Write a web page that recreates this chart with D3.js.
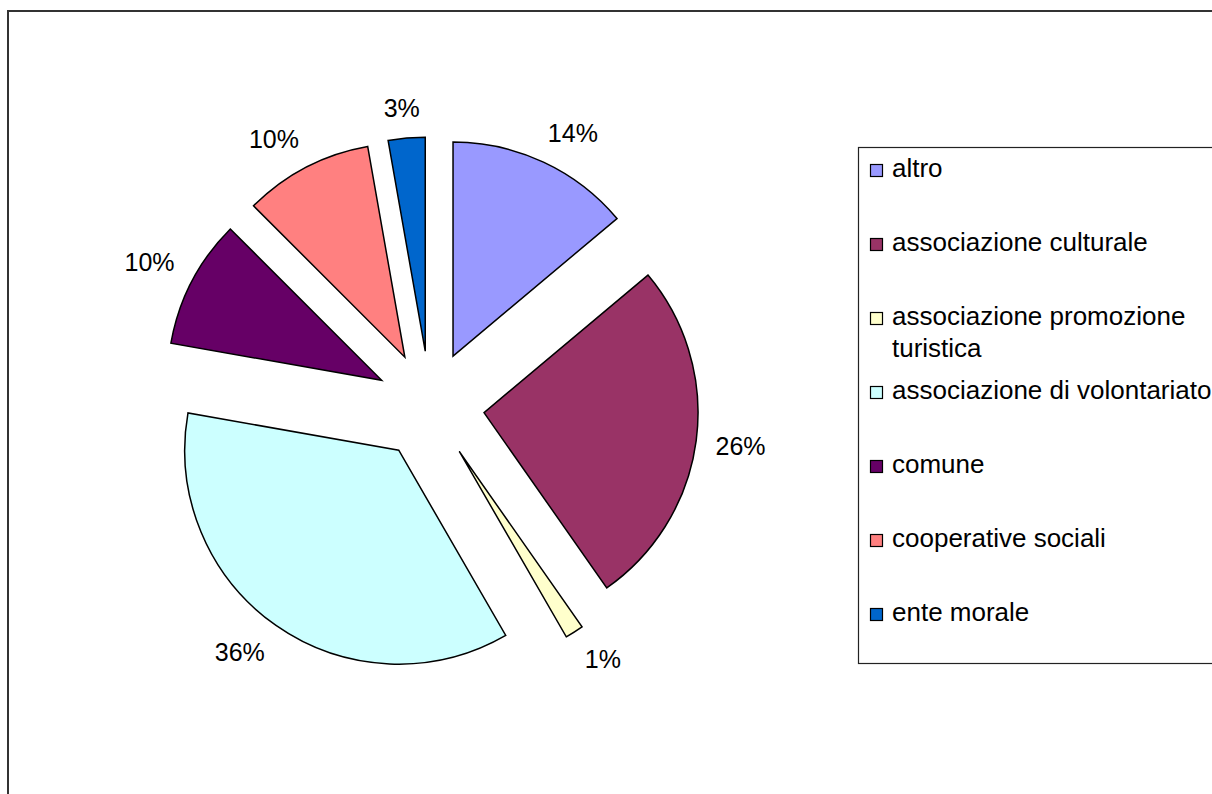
<!DOCTYPE html>
<html><head><meta charset="utf-8">
<script src="https://cdn.jsdelivr.net/npm/d3@7"></script>
<style>
body{margin:0;background:#fff}
svg{display:block}
text{font-family:"Liberation Sans",Arial,sans-serif;fill:#000}
</style>
</head><body>
<svg id="chart" width="1212" height="794"></svg>
<script>
// Data (counts inferred from slice angles; labels are rounded shares)
const categories = ["altro","associazione culturale","associazione promozione turistica","associazione di volontariato","comune","cooperative sociali","ente morale"];
const values = [10, 19, 1, 26, 7, 7, 2];
const colors = ["#9999FF","#993366","#FFFFCC","#CCFFFF","#660066","#FF8080","#0066CC"];
const legendLabels = [["altro"],["associazione culturale"],["associazione promozione","turistica"],["associazione di volontariato"],["comune"],["cooperative sociali"],["ente morale"]];

const svg = d3.select("#chart");

// outer chart border
svg.append("rect").attr("x",8).attr("y",11).attr("width",1300).attr("height",900)
  .attr("fill","none").attr("stroke","#333").attr("stroke-width",2);

const cx = 430, cy = 405.5, R = 214, explode = 54.5, labelR = 288;
const total = d3.sum(values);
const data = categories.map((c,i)=>({cat:c, value:values[i], color:colors[i]}));
const pie = d3.pie().sort(null).value(d=>d.value);
const arc = d3.arc().innerRadius(0).outerRadius(R);
const arcs = pie(data);

const g = svg.append("g").attr("transform",`translate(${cx},${cy})`);
g.selectAll("path.slice").data(arcs).join("path")
  .attr("class","slice")
  .attr("d",arc)
  .attr("fill",d=>d.data.color)
  .attr("stroke","#000").attr("stroke-width",1.5).attr("stroke-linejoin","miter")
  .attr("transform",d=>{
    const a=(d.startAngle+d.endAngle)/2;
    return `translate(${explode*Math.sin(a)},${-explode*Math.cos(a)})`;
  });

const fs = 25;
const lbl = g.selectAll("text.lbl").data(arcs).join("text")
  .attr("class","lbl")
  .attr("font-size",fs)
  .attr("text-anchor","middle")
  .text(d=>Math.round(d.data.value/total*100)+"%");
lbl.each(function(d){
  const a=(d.startAngle+d.endAngle)/2;
  const s=Math.sin(a), c=Math.cos(a);
  const w=this.getComputedTextLength(), h=22;
  const clamp=v=>Math.max(-1,Math.min(1,v));
  const x=labelR*s + (w/2)*clamp(2*s);
  const y=-labelR*c - (h/2)*clamp(2*c);
  d3.select(this).attr("x",x).attr("y",y+9);
});

// legend
const lg = svg.append("g");
lg.append("rect").attr("x",858.5).attr("y",147.5).attr("width",400).attr("height",516)
  .attr("fill","#fff").attr("stroke","#222").attr("stroke-width",1.2);
const rowY = d3.scalePoint().domain(d3.range(categories.length)).range([177,621]);
const items = lg.selectAll("g.item").data(data).join("g").attr("class","item")
  .attr("transform",(d,i)=>`translate(0,${rowY(i)})`);
items.append("rect").attr("x",870.5).attr("y",-12.5).attr("width",12).attr("height",12)
  .attr("fill",d=>d.color).attr("stroke","#000").attr("stroke-width",1.2);
items.append("text").attr("x",892).attr("font-size",26)
  .selectAll("tspan").data((d,i)=>legendLabels[i]).join("tspan")
  .attr("x",892).attr("dy",(d,j)=>j===0?0:32).text(d=>d);
</script>
</body></html>
